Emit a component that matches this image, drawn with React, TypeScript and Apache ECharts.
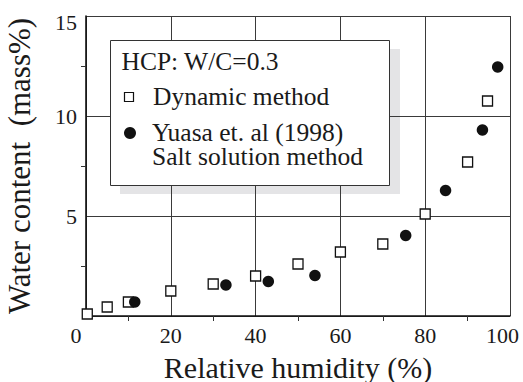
import React, { useEffect, useRef } from "react";
import * as echarts from "echarts";

// Relative humidity (%) and water content (mass%) for each data set
const dynamicHumidity = [0.3, 5, 10, 20, 30, 40, 50, 60, 70, 80, 90, 94.7];
const dynamicWater = [0.1, 0.45, 0.7, 1.25, 1.6, 2.0, 2.6, 3.2, 3.6, 5.1, 7.7, 10.75];
const saltHumidity = [11.5, 33, 43, 54, 75.4, 84.8, 93.5, 97.1];
const saltWater = [0.7, 1.55, 1.73, 2.03, 4.03, 6.28, 9.3, 12.45];

const xTicks = [0, 20, 40, 60, 80, 100];
const yTicks = [5, 10, 15];

const legendTitle = "HCP: W/C=0.3";
const dynamicLabel = "Dynamic method";
const saltLabel1 = "Yuasa et. al (1998)";
const saltLabel2 = "Salt solution method";

const FONT = "Liberation Serif, Times New Roman, serif";
const INK = "#1a1a1a";

export default function App() {
  const ref = useRef<HTMLDivElement>(null);

  useEffect(() => {
    if (!ref.current) return;
    const chart = echarts.init(ref.current, undefined, { renderer: "svg" });

    const dynamicData = dynamicHumidity.map((h, i) => [h, dynamicWater[i]]);
    const saltData = saltHumidity.map((h, i) => [h, saltWater[i]]);

    const legendText = (text: string, x: number, y: number) => ({
      type: "text",
      z: 101,
      x,
      y,
      style: {
        text,
        fontFamily: FONT,
        fontSize: 25.5,
        lineHeight: 24,
        fill: INK,
        verticalAlign: "middle",
      },
    });

    chart.setOption({
      animation: false,
      backgroundColor: "#ffffff",
      grid: { left: 86, right: 13, top: 16, bottom: 66, outerBoundsMode: "none", containLabel: false },
      xAxis: {
        type: "value",
        min: 0,
        max: 100,
        interval: 20,
        name: "Relative humidity (%)",
        nameLocation: "middle",
        nameGap: 36,
        nameTextStyle: { fontFamily: FONT, fontSize: 30, color: INK },
        axisLine: { show: true, onZero: false, lineStyle: { color: "#111", width: 1.6 } },
        axisTick: { show: false },
        minorTick: { show: true, splitNumber: 2, length: 5, lineStyle: { color: "#333", width: 1 } },
        splitLine: { show: true, lineStyle: { color: "#3a3a3a", width: 1 } },
        axisLabel: {
          fontFamily: FONT,
          fontSize: 22,
          color: INK,
          margin: 8,
          lineHeight: 22,
          customValues: xTicks,
          formatter: (v: number) =>
            v === 0 ? "{a|0}" : v === 100 ? "{b|100}" : String(v),
          rich: {
            a: { fontFamily: FONT, fontSize: 22, color: INK, padding: [0, 20, 0, 0] },
            b: { fontFamily: FONT, fontSize: 22, color: INK, padding: [0, 15, 0, 0] },
          },
        },
      },
      yAxis: {
        type: "value",
        min: 0,
        max: 15,
        interval: 5,
        name: "Water content  (mass%)",
        nameLocation: "middle",
        nameRotate: 90,
        nameGap: 51,
        nameTextStyle: { fontFamily: FONT, fontSize: 31, color: INK },
        axisLine: { show: true, onZero: false, lineStyle: { color: "#111", width: 1.6 } },
        axisTick: { show: false },
        minorTick: { show: true, splitNumber: 2, length: 5, lineStyle: { color: "#333", width: 1 } },
        splitLine: { show: true, lineStyle: { color: "#3a3a3a", width: 1 } },
        axisLabel: {
          fontFamily: FONT,
          fontSize: 22,
          color: INK,
          margin: 9,
          customValues: yTicks,
          formatter: (v: number) => (v === 15 ? "{c|15}" : String(v)),
          rich: {
            c: { fontFamily: FONT, fontSize: 22, color: INK, padding: [12, 0, 0, 0] },
          },
        },
      },
      series: [
        {
          name: dynamicLabel,
          type: "scatter",
          symbol: "rect",
          symbolSize: 10,
          clip: false,
          itemStyle: { color: "#ffffff", borderColor: "#111", borderWidth: 1.3, opacity: 1 },
          data: dynamicData,
          z: 3,
        },
        {
          name: saltLabel1,
          type: "scatter",
          symbol: "circle",
          symbolSize: 11.5,
          clip: false,
          itemStyle: { color: "#111", opacity: 1 },
          data: saltData,
          z: 4,
        },
      ],
      graphic: [
        {
          type: "rect",
          z: -1,
          shape: { x: 120, y: 49, width: 280, height: 145 },
          style: { fill: "#e4e4e6" },
        },
        {
          type: "group",
          z: 100,
          children: [
            {
              type: "rect",
              z: 100,
              shape: { x: 110.5, y: 40.5, width: 279, height: 145 },
              style: { fill: "#ffffff", stroke: "#333", lineWidth: 1 },
            },
            legendText(legendTitle, 121.5, 61),
            {
              type: "rect",
              z: 101,
              shape: { x: 124.5, y: 92.5, width: 9, height: 9 },
              style: { fill: "#fff", stroke: "#111", lineWidth: 1.2 },
            },
            legendText(dynamicLabel, 153, 96),
            {
              type: "circle",
              z: 101,
              shape: { cx: 130, cy: 133, r: 6 },
              style: { fill: "#111" },
            },
            // the salt-solution entry spans two lines
            legendText(`${saltLabel1}\n${saltLabel2}`, 152, 144),
          ],
        },
      ],
    });

    return () => chart.dispose();
  }, []);

  return (
    <div
      ref={ref}
      style={{ position: "fixed", left: 0, top: 0, width: 523, height: 382, background: "#fff" }}
    />
  );
}
